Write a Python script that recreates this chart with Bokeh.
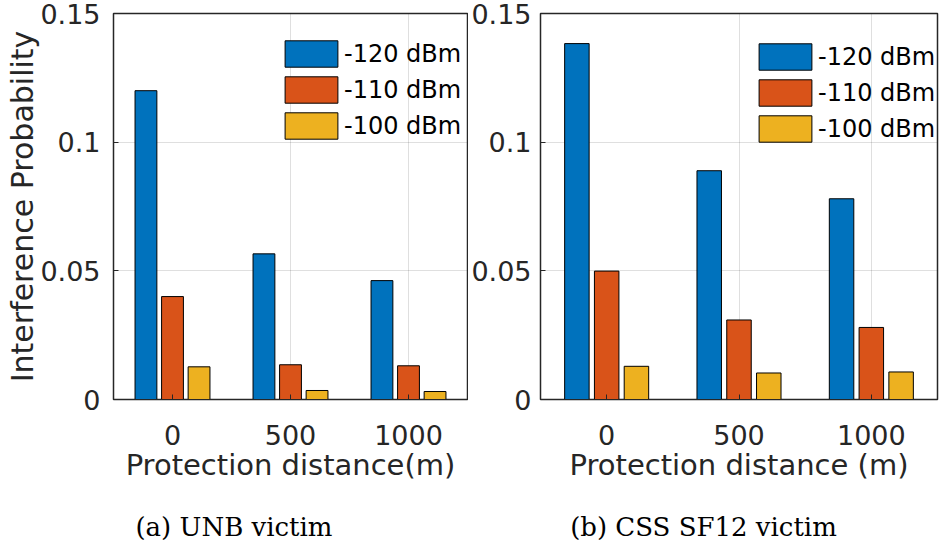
from bokeh.plotting import figure
from bokeh.models import (ColumnDataSource, FactorRange, Range1d, FixedTicker,
                          Legend, LegendItem, Div)
from bokeh.transform import dodge
from bokeh.layouts import row, column
from bokeh.embed import file_html
from bokeh.resources import INLINE

categories = ["0", "500", "1000"]
series = ["-120 dBm", "-110 dBm", "-100 dBm"]
colors = ["#0072BD", "#D95319", "#EDB120"]
yticks = [0, 0.05, 0.1, 0.15]
ytick_labels = ["0", "0.05", "0.1", "0.15"]

unb_120 = [0.120, 0.0566, 0.0462]
unb_110 = [0.0400, 0.0135, 0.0131]
unb_100 = [0.0127, 0.0035, 0.0031]

css_120 = [0.1383, 0.0889, 0.0780]
css_110 = [0.0499, 0.0309, 0.0280]
css_100 = [0.0129, 0.0103, 0.0107]

captions = ["(a) UNB victim", "(b) CSS SF12 victim"]

GRID = "#262626"
SANS = "DejaVu Sans"
FIG_H = 500


def make(vals, xlabel, ylabel, width, left, right, top, ystandoff, leg_loc):
    src = ColumnDataSource(dict(cat=categories, s0=vals[0], s1=vals[1], s2=vals[2]))
    p = figure(width=width, height=FIG_H,
               x_range=FactorRange(*categories, range_padding=0),
               y_range=Range1d(0, 0.15),
               output_backend="svg", toolbar_location=None,
               min_border_left=left, min_border_right=right,
               min_border_top=top, min_border_bottom=FIG_H - 400 + (13 - top) // 3)
    p.background_fill_color = "white"
    p.border_fill_color = "white"
    offsets = [-0.225, 0.0, 0.225]
    rends = []
    for i, key in enumerate(["s0", "s1", "s2"]):
        r = p.vbar(x=dodge("cat", offsets[i], range=p.x_range), top=key, width=0.185,
                   source=src, fill_color=colors[i], line_color="black", line_width=1)
        rends.append(r)

    # grid
    p.xgrid.grid_line_color = GRID
    p.xgrid.grid_line_alpha = 0.15
    p.ygrid.grid_line_color = GRID
    p.ygrid.grid_line_alpha = 0.15
    p.ygrid.ticker = FixedTicker(ticks=yticks)

    p.outline_line_color = GRID
    p.outline_line_width = 1.5
    p.outline_line_alpha = 1

    # y axis
    ya = p.yaxis[0]
    ya.ticker = FixedTicker(ticks=yticks)
    ya.major_label_overrides = {t: l for t, l in zip(yticks, ytick_labels)}
    ya.major_label_text_font = SANS
    ya.major_label_text_font_size = "27px"
    ya.major_label_text_color = GRID
    ya.major_tick_in = 5
    ya.major_tick_out = 0
    ya.minor_tick_line_color = None
    ya.major_tick_line_color = GRID
    ya.axis_line_color = GRID
    ya.major_label_standoff = ystandoff
    if ylabel:
        ya.axis_label = ylabel
        ya.axis_label_text_font = SANS
        ya.axis_label_text_font_size = "30px"
        ya.axis_label_text_font_style = "normal"
        ya.axis_label_text_color = GRID
        ya.axis_label_standoff = -3

    # x axis
    xa = p.xaxis[0]
    xa.major_label_text_font = SANS
    xa.major_label_text_font_size = "27px"
    xa.major_label_text_color = GRID
    xa.major_tick_in = 5
    xa.major_tick_out = 0
    xa.major_tick_line_color = GRID
    xa.axis_line_color = GRID
    xa.major_label_standoff = 25
    xa.axis_label = xlabel
    xa.axis_label_text_font = SANS
    xa.axis_label_text_font_size = "29px"
    xa.axis_label_text_font_style = "normal"
    xa.axis_label_text_color = GRID
    xa.axis_label_standoff = 0

    # legend
    items = [LegendItem(label=series[i], renderers=[rends[i]]) for i in range(3)]
    leg = Legend(items=items, location=leg_loc, glyph_width=66, glyph_height=33,
                 label_text_font=SANS, label_text_font_size="24px", label_text_color="black",
                 label_standoff=-6, spacing=3, padding=0, margin=0,
                 border_line_alpha=0, background_fill_alpha=0)
    p.add_layout(leg)
    return p


def caption_div(text, width):
    html = ('<div style="font-family: \'DejaVu Serif\'; font-size: 26px; line-height: 30px; '
            'color: black; text-align: center; width: %dpx; padding-top: 12px;">%s</div>'
            % (width, text))
    return Div(text=html, width=width, height=548 - FIG_H, margin=0)


p1 = make([unb_120, unb_110, unb_100], "Protection distance(m)", "Interference Probability",
          468, 113, 1, 10, 13, (165, 257))
p2 = make([css_120, css_110, css_100], "Protection distance (m)", None,
          471, 70, 2, 13, 9, (212, 254))

d1 = caption_div(captions[0], 468)
d2 = caption_div(captions[1], 471)

layout = column(row(p1, p2, spacing=0), row(d1, d2, spacing=0), spacing=0)
open("out.html", "w").write(file_html(layout, INLINE))
